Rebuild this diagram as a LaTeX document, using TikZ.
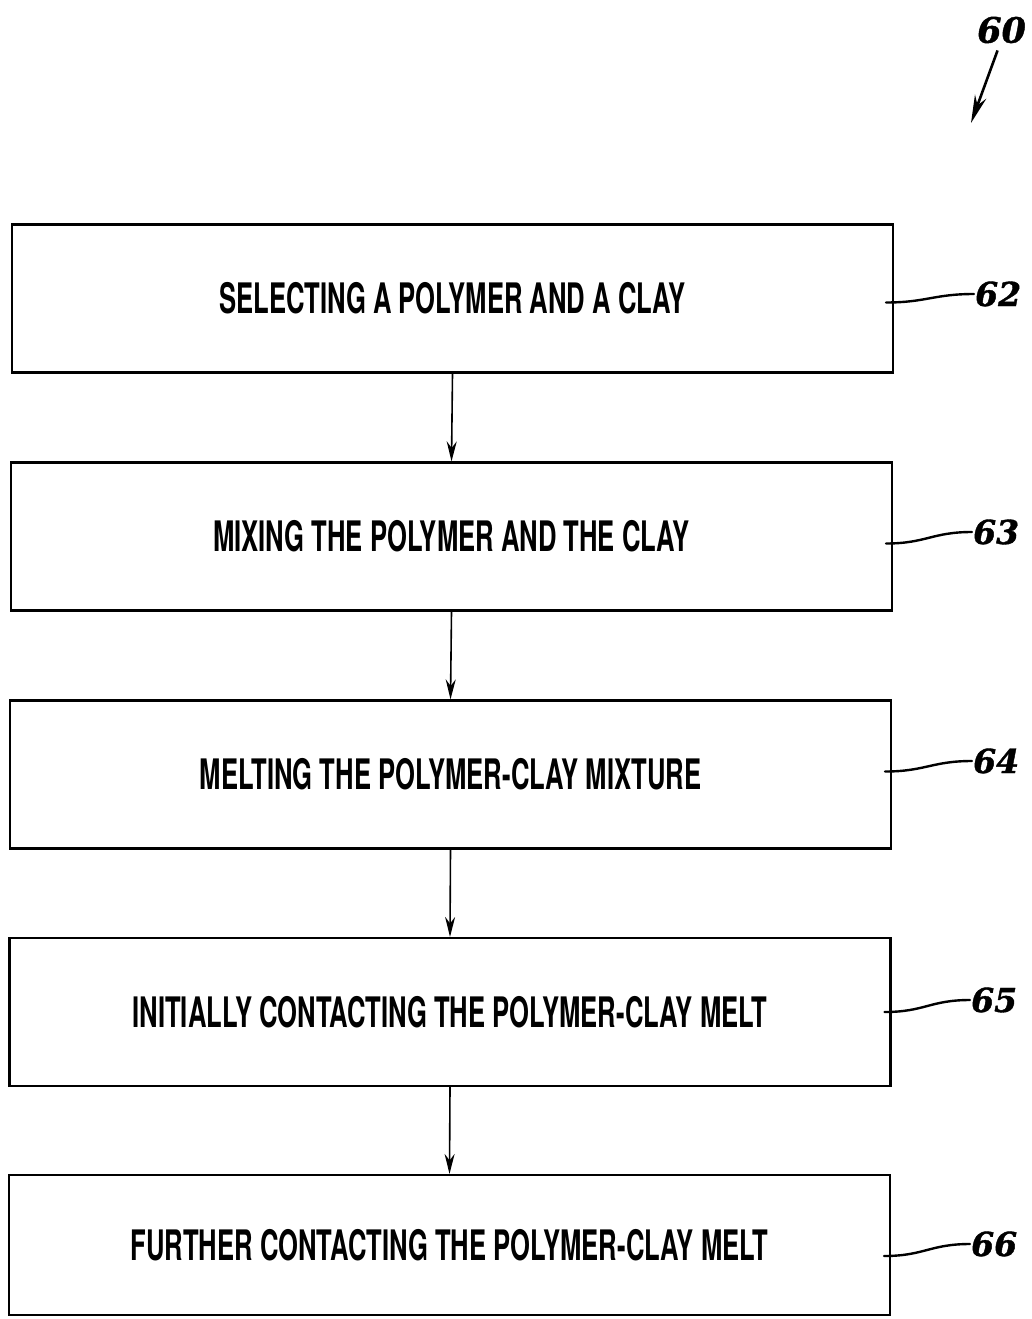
\documentclass[tikz,border=0pt]{standalone}
\usepackage{fontspec}
\usepackage{tikz}
\usetikzlibrary{arrows.meta, positioning}
\newfontfamily\stepfont[FakeStretch=0.61]{TeX Gyre Heros}
\newfontfamily\reffont[FakeBold=1.2]{DejaVu Serif}

\begin{document}
\begin{tikzpicture}[x=1pt, y=-1pt,
  stepbox/.style={draw, line width=2.2pt, minimum width=881pt, minimum height=148pt,
    inner sep=0pt, font=\stepfont\bfseries\fontsize{42}{48}\selectfont},
  reflabel/.style={anchor=west, inner sep=1pt, font=\reffont\bfseries\itshape\fontsize{33}{38}\selectfont},
  flow/.style={-{Stealth[length=20pt, width=10pt]}, line width=1.6pt},
  leader/.style={line width=2.4pt, line cap=round}]
  \useasboundingbox (0,0) rectangle (1031,1319);
  % process steps
  \node[stepbox] (s62) at (452.5,298.5) {SELECTING A POLYMER AND A CLAY};
  \node[stepbox] (s63) at (451.5,536.5) {MIXING THE POLYMER AND THE CLAY};
  \node[stepbox] (s64) at (450.5,774.5) {MELTING THE POLYMER-CLAY MIXTURE};
  \node[stepbox] (s65) at (450,1012) {INITIALLY CONTACTING THE POLYMER-CLAY MELT};
  \node[stepbox, minimum height=140pt] (s66) at (449.5,1245) {FURTHER CONTACTING THE POLYMER-CLAY MELT};
  % flow arrows
  \draw[flow] (s62.south) -- (s63.north);
  \draw[flow] (s63.south) -- (s64.north);
  \draw[flow] (s64.south) -- (s65.north);
  \draw[flow] (s65.south) -- (s66.north);
  % reference numerals
  \node[reflabel] (l62) at (974,294) {62};
  \node[reflabel] (l63) at (972,532) {63};
  \node[reflabel] (l64) at (972,761) {64};
  \node[reflabel] (l65) at (970,1000) {65};
  \node[reflabel] (l66) at (970,1244) {66};
  \draw[leader] (s62.east) ++(-8,4) .. controls +(40,0) and +(-40,0) .. (l62.west);
  \draw[leader] (s63.east) ++(-7,7) .. controls +(40,0) and +(-40,0) .. (l63.west);
  \draw[leader] (s64.east) ++(-7,-3) .. controls +(40,0) and +(-40,0) .. (l64.west);
  \draw[leader] (s65.east) ++(-7,0) .. controls +(40,0) and +(-40,0) .. (l65.west);
  \draw[leader] (s66.east) ++(-7,11) .. controls +(40,0) and +(-40,0) .. (l66.west);
  % figure numeral
  \node[reflabel, font=\reffont\bfseries\itshape\fontsize{35}{40}\selectfont] (l60) at (976,30) {60};
  \coordinate (p60) at (971,123);
  \draw[line width=2.6pt, -{Stealth[length=28pt, width=12pt]}] (l60.south) ++(-4,6) -- (p60);
\end{tikzpicture}
\end{document}
